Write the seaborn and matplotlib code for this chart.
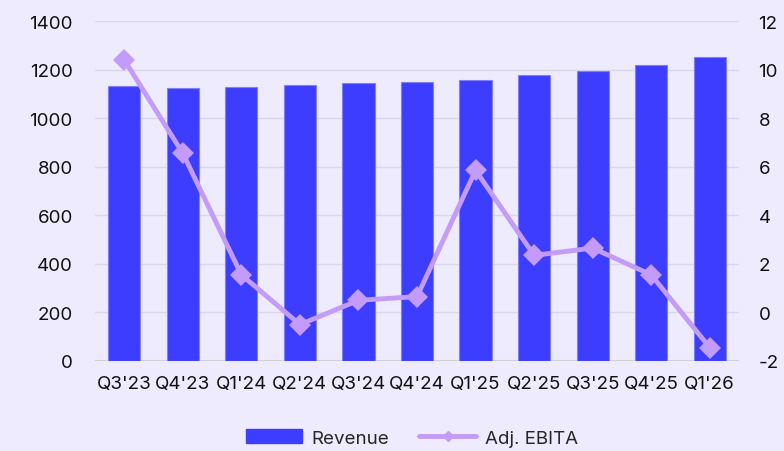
import pandas as pd
import matplotlib.pyplot as plt
import seaborn as sns
from matplotlib.lines import Line2D
from matplotlib.patches import Patch

quarters = ["Q3'23", "Q4'23", "Q1'24", "Q2'24", "Q3'24", "Q4'24",
            "Q1'25", "Q2'25", "Q3'25", "Q4'25", "Q1'26"]
revenue = [1133, 1124, 1129, 1136, 1144, 1149, 1156, 1177, 1195, 1217, 1250]
adj_ebita = [10.4, 6.55, 1.55, -0.5, 0.5, 0.65, 5.85, 2.35, 2.65, 1.55, -1.45]

df = pd.DataFrame({'Quarter': quarters, 'Revenue': revenue, 'Adj. EBITA': adj_ebita})

bg = '#EDEBFD'
bar_col = '#3D3DFF'
line_col = '#C39BFA'
grid_col = '#D8D8E6'

sns.set_theme(style='white')
plt.rcParams['font.family'] = ['Inter', 'DejaVu Sans']
plt.rcParams['axes.unicode_minus'] = False

fig = plt.figure(figsize=(7.84, 4.52), dpi=100, facecolor=bg)
ax = fig.add_axes([95 / 784, 1 - 362 / 452, 644 / 784, 340 / 452])
ax.set_facecolor(bg)

sns.barplot(data=df, x='Quarter', y='Revenue', color=bar_col, width=0.55,
            edgecolor='#8080FF', linewidth=0.8, saturation=1, ax=ax, zorder=2)
ax.set_ylim(0, 1400)
ax.set_xlim(-0.5, 10.5)
ax.set_yticks(range(0, 1401, 200))
ax.yaxis.grid(True, color=grid_col, linewidth=1)
ax.set_axisbelow(True)
for s in ax.spines.values():
    s.set_visible(False)
ax.axhline(0, color='#D0D0D8', linewidth=1.5, zorder=1)
ax.set_xlabel('')
ax.set_ylabel('')
ax.tick_params(axis='both', length=0, labelsize=13.5, colors='#111111')
ax.tick_params(axis='x', pad=10)
ax.tick_params(axis='y', pad=16)

ax2 = ax.twinx()
sns.lineplot(x=list(range(len(quarters))), y=adj_ebita, color=line_col, linewidth=3.5,
             marker='D', markersize=11, markeredgewidth=0, ax=ax2, zorder=3)
ax2.set_ylim(-2, 12)
ax2.set_yticks(range(-2, 13, 2))
ax2.set_xlim(-0.5, 10.5)
for s in ax2.spines.values():
    s.set_visible(False)
ax2.tick_params(axis='y', length=0, labelsize=13.5, colors='#111111', pad=14)
ax2.grid(False)

handles = [Patch(facecolor=bar_col, edgecolor=bar_col),
           Line2D([0], [0], color=line_col, linewidth=3.5, marker='D', markersize=5)]
fig.legend(handles, ['Revenue', 'Adj. EBITA'], loc='center', bbox_to_anchor=(412 / 784, 1 - 439 / 452),
           ncol=2, frameon=False, fontsize=13.5, handlelength=3.0, columnspacing=1.6,
           handletextpad=0.5)

fig.savefig('out.png', dpi=100, facecolor=bg)
